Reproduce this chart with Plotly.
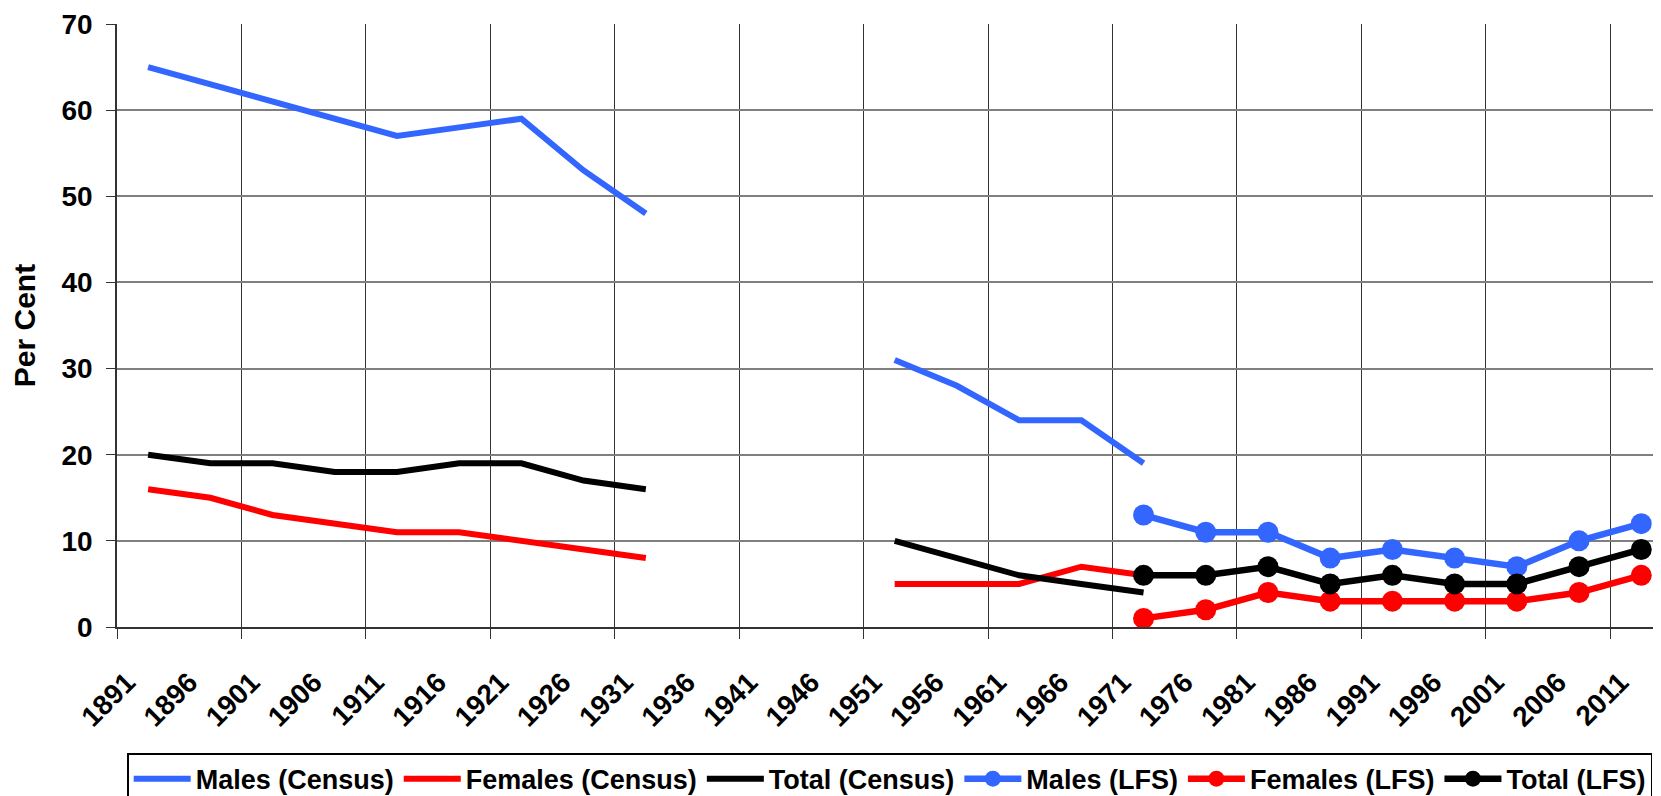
import plotly.graph_objects as go

# ---- data -------------------------------------------------------------
years = list(range(1891, 2012, 5))  # category labels 1891 ... 2011

census_years = [1891, 1896, 1901, 1906, 1911, 1916, 1921, 1926, 1931,
                1936, 1941, 1946,
                1951, 1956, 1961, 1966, 1971]
males_census = [65, 63, 61, 59, 57, 58, 59, 53, 48,
                None, None, None,
                31, 28, 24, 24, 19]
females_census = [16, 15, 13, 12, 11, 11, 10, 9, 8,
                  None, None, None,
                  5, 5, 5, 7, 6]
total_census = [20, 19, 19, 18, 18, 19, 19, 17, 16,
                None, None, None,
                10, 8, 6, 5, 4]

lfs_years = [1971, 1976, 1981, 1986, 1991, 1996, 2001, 2006, 2011]
males_lfs = [13, 11, 11, 8, 9, 8, 7, 10, 12]
females_lfs = [1, 2, 4, 3, 3, 3, 3, 4, 6]
total_lfs = [6, 6, 7, 5, 6, 5, 5, 7, 9]

BLUE = "#3366FF"
RED = "#FF0000"
BLACK = "#000000"
FONT = "Liberation Sans, Arial, sans-serif"

fig = go.Figure()

census = [("Males (Census)", males_census, BLUE),
          ("Females (Census)", females_census, RED),
          ("Total (Census)", total_census, BLACK)]
for name, vals, col in census:
    fig.add_trace(go.Scatter(x=census_years, y=vals, name=name, mode="lines",
                             line=dict(color=col, width=6),
                             connectgaps=False))

lfs = [("Males (LFS)", males_lfs, BLUE),
       ("Females (LFS)", females_lfs, RED),
       ("Total (LFS)", total_lfs, BLACK)]
for name, vals, col in lfs:
    fig.add_trace(go.Scatter(x=lfs_years, y=vals, name=name, mode="lines+markers",
                             line=dict(color=col, width=6.5),
                             marker=dict(color=col, size=21)))

# page body has an 8px margin, so the figure is sized/offset accordingly
W, H = 1653, 788
L, T, B = 108.5, 16.4, 169
plot_w = W - L
plot_h = H - T - B
plot_bottom = H - B

fig.update_layout(
    width=W, height=H,
    margin=dict(l=L, r=0, t=T, b=B, pad=0, autoexpand=False),
    paper_bgcolor="white", plot_bgcolor="white",
    font=dict(family=FONT, size=28, color="black", weight="bold"),
    showlegend=True,
    legend=dict(orientation="h", x=(118.7 - L) / plot_w, xanchor="left",
                y=(plot_bottom - 745) / plot_h, yanchor="top",
                font=dict(family=FONT, size=27, color="black", weight="bold"),
                bordercolor="#000000", borderwidth=1.5, bgcolor="white",
                itemwidth=57, tracegroupgap=0),
    xaxis=dict(range=[1888.5, 1888.5 + plot_w / 12.447],
               tickmode="array", tickvals=years, ticktext=[str(y) for y in years],
               tickangle=-45, ticks="", showgrid=False, zeroline=False,
               showline=True, linecolor="#333333", linewidth=1.5,
               tickfont=dict(family=FONT, size=28, color="black", weight="bold"),
               ticklabelshift=-21, ticklabelstandoff=26,
               minor=dict(tick0=1888.5, dtick=10, showgrid=True,
                          gridcolor="#333333", gridwidth=1.3,
                          ticks="outside", ticklen=10, tickcolor="#333333",
                          tickwidth=1.3)),
    yaxis=dict(range=[0, 70], dtick=10, showgrid=True, gridcolor="#7f7f7f",
               gridwidth=1.8, zeroline=False, showline=True,
               linecolor="#333333", linewidth=1.5,
               ticks="outside", ticklen=9, tickcolor="#333333", tickwidth=1.3,
               tickfont=dict(family=FONT, size=28, color="black", weight="bold"),
               ticklabelstandoff=8,
               title=dict(text="Per Cent", standoff=20,
                          font=dict(family=FONT, size=30, color="black",
                                    weight="bold"))),
)

fig.write_html("out.html")
